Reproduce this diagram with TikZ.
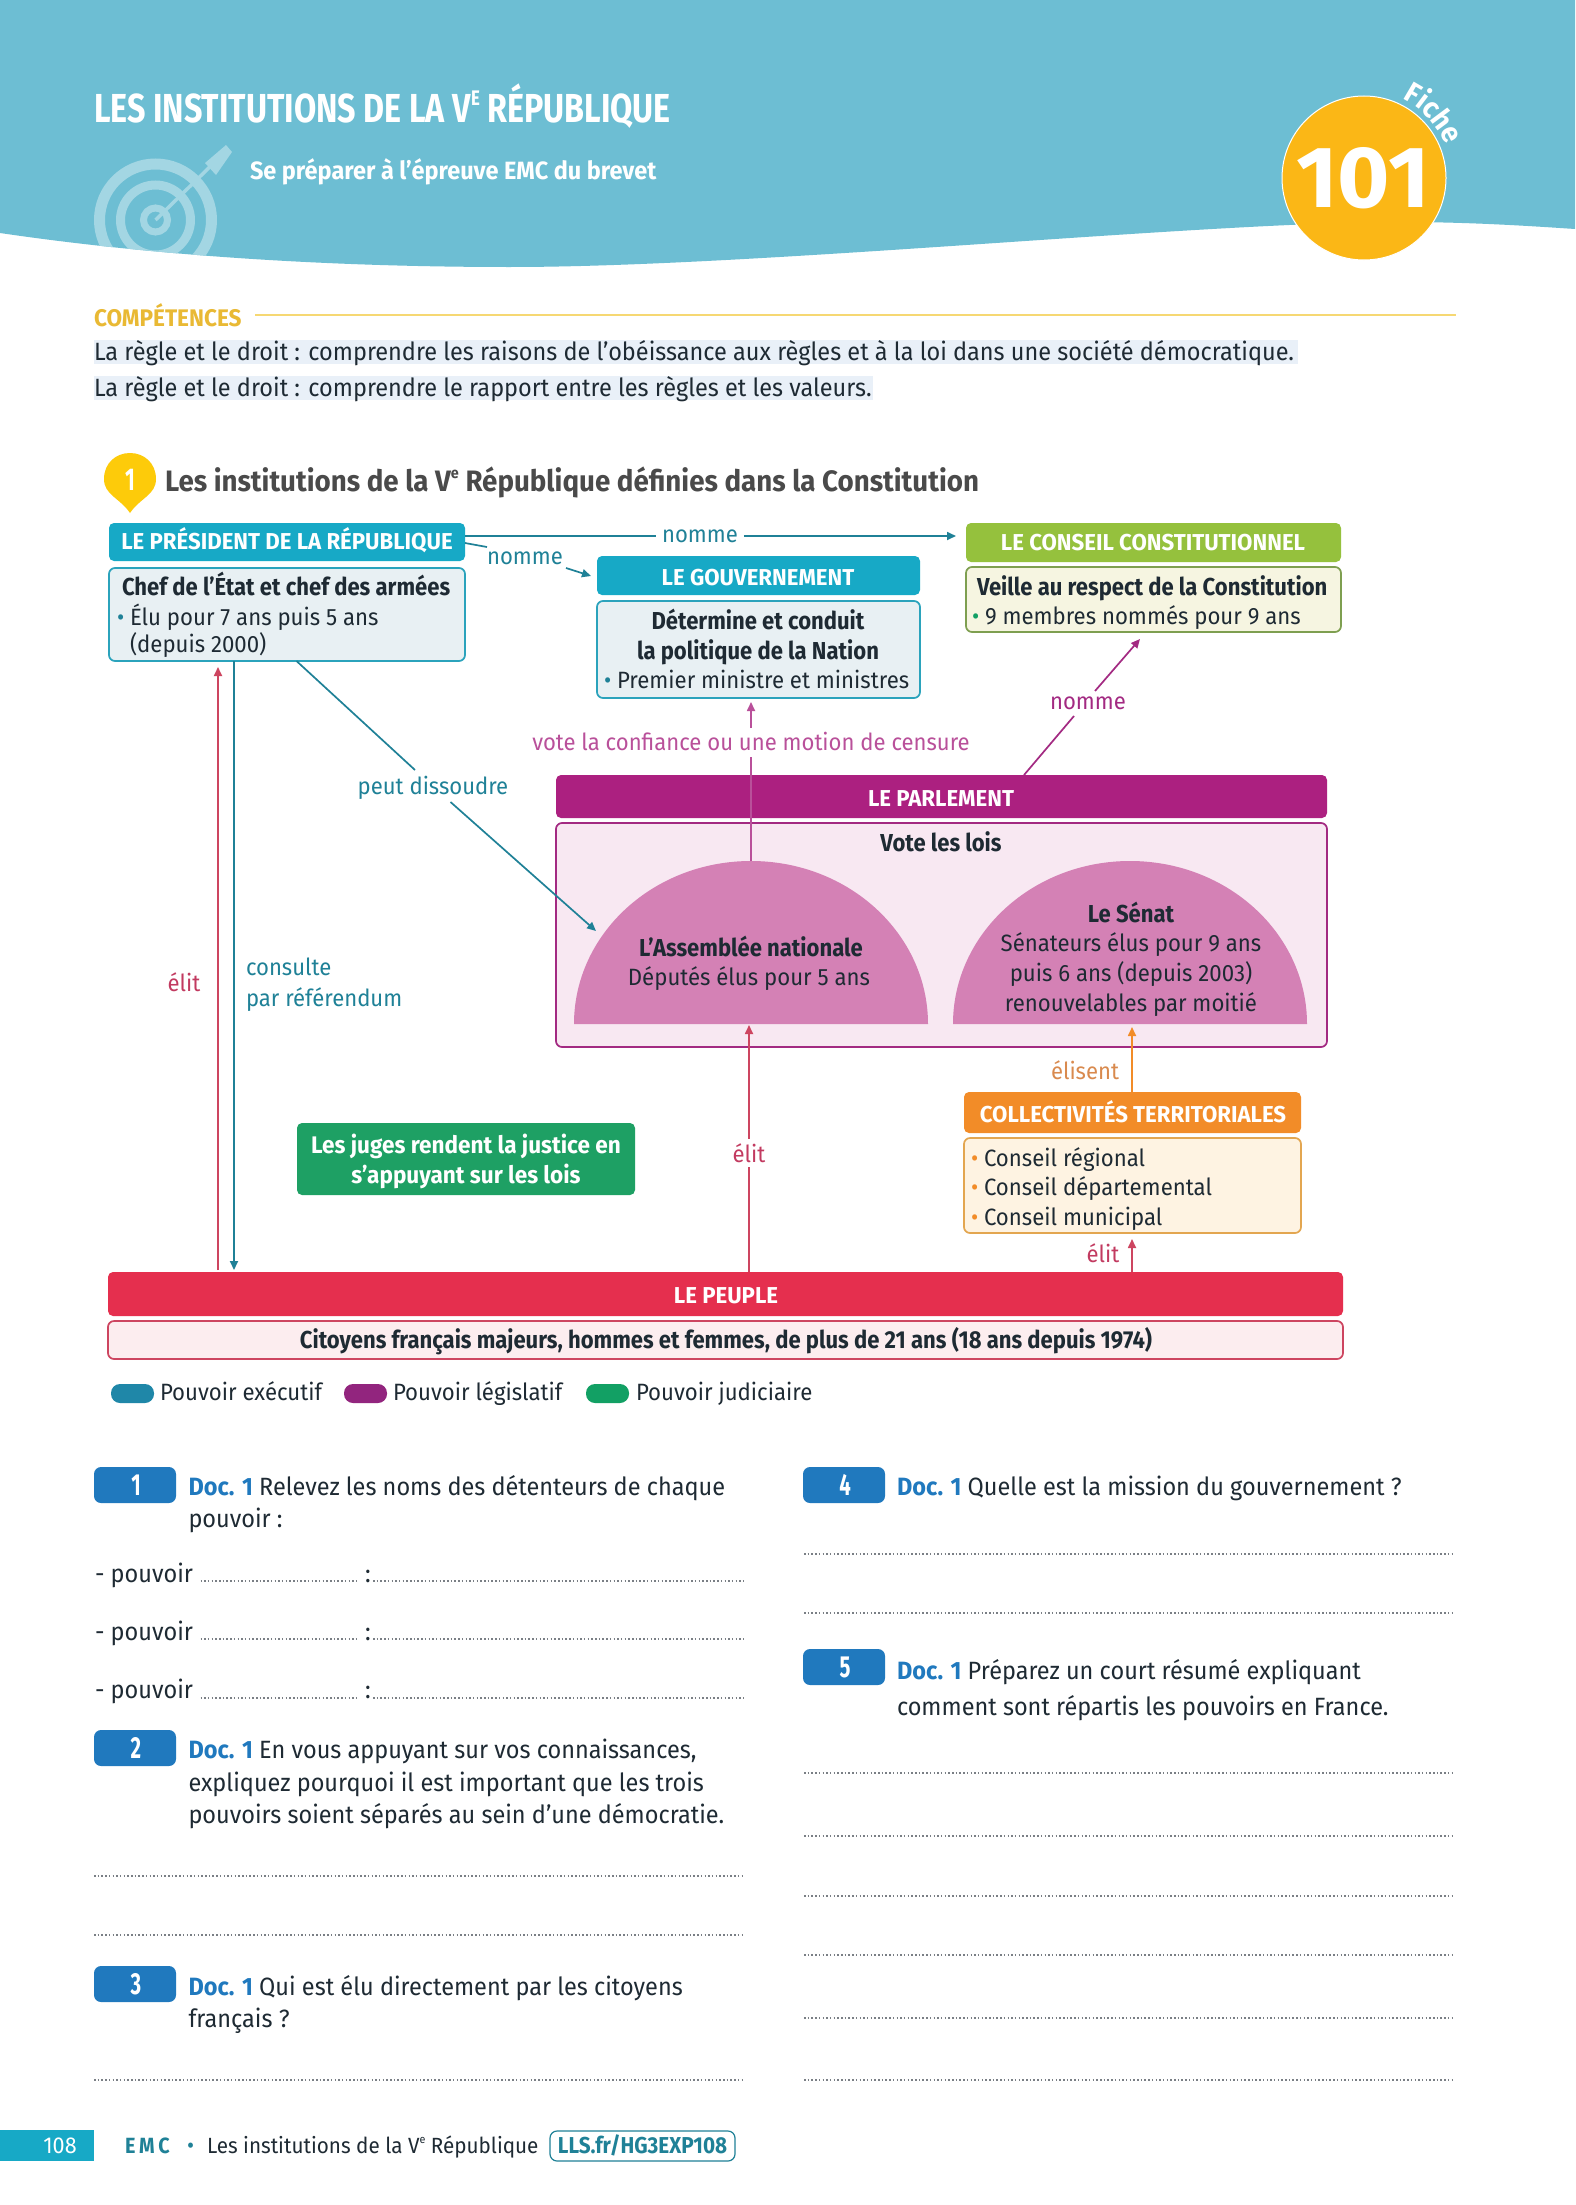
\documentclass[tikz,border=0pt]{standalone}
\usepackage{fontspec}
\setmainfont{Fira Sans}[FakeStretch=0.94,BoldFeatures={FakeStretch=0.90}]
\newfontfamily\hdf{Fira Sans}[FakeStretch=0.965]
\newfontfamily\wbf{Fira Sans}[FakeStretch=0.94]
\newfontfamily\numf{Fira Sans}[FakeStretch=1.03]
\usetikzlibrary{arrows.meta,decorations.text}
\definecolor{hdrblue}{HTML}{6DBED3}
\definecolor{ringc}{HTML}{A3D6E3}
\definecolor{gold}{HTML}{FBB716}
\definecolor{compc}{HTML}{E9B934}
\definecolor{ruleY}{HTML}{F6D873}
\definecolor{hili}{HTML}{E9F0F8}
\definecolor{ink}{HTML}{1E2A33}
\definecolor{headg}{HTML}{4A4A4A}
\definecolor{pinY}{HTML}{FDCB0A}
\definecolor{cyanH}{HTML}{17A9C6}
\definecolor{cyanB}{HTML}{E8F0F3}
\definecolor{cyanL}{HTML}{2BA3BC}
\definecolor{tealL}{HTML}{1F8197}
\definecolor{greenH}{HTML}{95C13D}
\definecolor{greenB}{HTML}{F6F5E1}
\definecolor{greenL}{HTML}{7E9F50}
\definecolor{purpH}{HTML}{AC2080}
\definecolor{purpB}{HTML}{F8E8F2}
\definecolor{purpL}{HTML}{A32A82}
\definecolor{dome}{HTML}{D481B5}
\definecolor{voteC}{HTML}{B9509A}
\definecolor{redH}{HTML}{E52F4E}
\definecolor{redB}{HTML}{FCEDEF}
\definecolor{redL}{HTML}{CD4560}
\definecolor{redT}{HTML}{C23A60}
\definecolor{orH}{HTML}{F28C28}
\definecolor{orB}{HTML}{FEF3E2}
\definecolor{orL}{HTML}{E3A650}
\definecolor{orT}{HTML}{D98A4E}
\definecolor{jud}{HTML}{1EA064}
\definecolor{legT}{HTML}{1F87A8}
\definecolor{legP}{HTML}{92257E}
\definecolor{legG}{HTML}{12A064}
\definecolor{badge}{HTML}{2079BE}
\definecolor{dotc}{HTML}{7A7F85}
\tikzset{
  txt/.style={inner sep=0pt,outer sep=0pt,anchor=base west,text=ink,font=\fontsize{#1}{#1}\selectfont},
  btxt/.style={inner sep=0pt,outer sep=0pt,anchor=base west,text=ink,font=\fontsize{#1}{#1}\selectfont\bfseries},
  wbtxt/.style={inner sep=0pt,outer sep=0pt,anchor=base west,text=ink,font=\wbf\fontsize{#1}{#1}\selectfont\bfseries},
  mid/.style={anchor=base},
  hd/.style={rounded corners=5pt,fill=#1,inner sep=0pt,outer sep=0pt},
  bodybox/.style 2 args={rounded corners=6pt,fill=#1,draw=#2,line width=1.7pt,inner sep=0pt,outer sep=0pt},
  hdtxt/.style={inner sep=0pt,anchor=base,text=white,font=\hdf\fontsize{23}{23}\selectfont\bfseries},
  lab/.style={inner ysep=3pt,inner xsep=6pt,outer sep=0pt,anchor=center,text=#1,font=\fontsize{23.5}{23.5}\selectfont},
  conn/.style={draw=#1,line width=1.7pt},
  arr/.style={draw=#1,line width=1.7pt,-{Triangle[width=8pt,length=9pt]}},
  dotrow/.style={draw=dotc,line width=1.6pt,dash pattern=on 1.5pt off 2.2pt},
  pill/.style={fill=#1,rounded corners=9pt,inner sep=0pt,outer sep=0pt},
  bdg/.style={fill=badge,rounded corners=7pt,inner sep=0pt,outer sep=0pt},
  bdgt/.style={inner sep=0pt,anchor=center,text=white,font=\fontsize{29}{29}\selectfont\bfseries}
}
% box from corners: style, name, x1,y1,x2,y2
\newcommand\bx[6]{\node[#1,minimum width={(#5-#3)*1pt},minimum height={(#6-#4)*1pt}] (#2) at ({(#3+#5)/2},{(#4+#6)/2}) {};}
\newcommand\supe[1]{\raisebox{.42em}{\scalebox{.52}{#1}}}
\newcommand\docu{\textcolor{badge}{\wbf\bfseries Doc. 1}}
\newcommand\nrw[1]{\scalebox{.78}[1.05]{#1}}
\newcommand\hdrpath{(0,0) -- (1575,0) -- (1575,229) .. controls (1530,226) and (1470,222) .. (1400,222) .. controls (1200,222) and (760,267) .. (510,267) .. controls (350,267) and (170,258) .. (0,233) -- cycle}
\begin{document}
\begin{tikzpicture}[x=1pt,y=-1pt]
\useasboundingbox (0,0) rectangle (1575,2205);
\fill[white] (0,0) rectangle (1575,2205);
% header
\fill[hdrblue] \hdrpath;
\begin{scope}
  \clip \hdrpath;
  \draw[ringc,line width=11pt] (155.5,220) circle (56);
  \draw[ringc,line width=9pt] (155.5,220) circle (35);
  \draw[ringc,line width=7pt] (155.5,220) circle (12);
  \draw[ringc,line width=3.5pt] (155.5,220) -- (222,155);
  \fill[ringc] (205,163) -- (226,145) -- (232,152) -- (216,175) -- cycle;
\end{scope}
\node[btxt=40.5,text=white] (title) at (94,123) {\scalebox{.885}[1]{LES INSTITUTIONS DE LA V\supe{E} RÉPUBLIQUE}};
\node[wbtxt=25,text=white] (subtitle) at (250,179) {Se préparer à l’épreuve EMC du brevet};
\node[circle,fill=gold,draw=white,line width=1pt,minimum size=164pt,inner sep=0pt] (seal) at (1364,178) {};
\node[btxt=87,text=white,mid,font=\numf\fontsize{87}{87}\selectfont\bfseries] (num) at (1363,207) {101};
\path[decorate,decoration={text along path,text align=left,text={|\wbf\fontsize{29}{29}\selectfont\bfseries\color{white}|Fiche}}]
  (1402.6,99) arc[start angle=-64,end angle=5,radius=88];
% competences
\node[wbtxt=24,text=compc] (comp) at (94,326) {COMPÉTENCES};
\coordinate (ruleA) at (255,315);
\coordinate (ruleB) at (1456,315);
\draw[ruleY,line width=1.6pt] (ruleA) -- (ruleB);
\fill[hili] (94,340) rectangle (1298,364);
\fill[hili] (94,376) rectangle (873,400);
\node[txt=25] (c1) at (94,360) {La règle et le droit : comprendre les raisons de l’obéissance aux règles et à la loi dans une société démocratique.};
\node[txt=25] (c2) at (94,396) {La règle et le droit : comprendre le rapport entre les règles et les valeurs.};
% section heading
\fill[pinY] (130,513) .. controls (120,498) and (104,495) .. (104,479) .. controls (104,463) and (116,453) .. (130,453) .. controls (144,453) and (156,463) .. (156,479) .. controls (156,495) and (140,498) .. (130,513) -- cycle;
\node[inner sep=0pt,text=white,font=\fontsize{30}{30}\selectfont\bfseries] (pin) at (130,480) {\nrw{1}};
\node[wbtxt=29.5,text=headg] (sec) at (165,491) {Les institutions de la V\supe{e} République définies dans la Constitution};
% president
\bx{hd=cyanH}{preshead}{109}{523}{465}{561}
\node[hdtxt] (prest) at (287,549) {LE PRÉSIDENT DE LA RÉPUBLIQUE};
\bx{bodybox={cyanB}{cyanL}}{presbody}{109}{568}{465}{661}
\node[btxt=24.5] (p1) at (122,595) {Chef de l’État et chef des armées};
\node[txt=23.6,text=tealL] (p2b) at (117,625) {•};
\node[txt=23.6] (p2) at (130,625) {Élu pour 7 ans puis 5 ans};
\node[txt=23.6] (p3) at (130,652) {(depuis 2000)};
% gouvernement
\bx{hd=cyanH}{govhead}{597}{556}{920}{595}
\node[hdtxt] (govt) at (758,585) {LE GOUVERNEMENT};
\bx{bodybox={cyanB}{cyanL}}{govbody}{597}{601}{920}{698}
\node[btxt=24.5,mid] (g1) at (758,629) {Détermine et conduit};
\node[btxt=24.5,mid] (g2) at (758,659) {la politique de la Nation};
\node[txt=23.6,text=tealL] (g3b) at (604,688) {•};
\node[txt=23.6] (g3) at (617,688) {Premier ministre et ministres};
% conseil
\bx{hd=greenH}{conhead}{966}{523}{1341}{562}
\node[hdtxt] (cont) at (1153,550) {LE CONSEIL CONSTITUTIONNEL};
\bx{bodybox={greenB}{greenL}}{conbody}{966}{567}{1341}{632}
\node[btxt=24.5] (k1) at (977,595) {Veille au respect de la Constitution};
\node[txt=23.6,text=legG] (k2b) at (972,624) {•};
\node[txt=23.6] (k2) at (985,624) {9 membres nommés pour 9 ans};
% parlement
\bx{hd=purpH}{parlhead}{556}{775}{1327}{818}
\node[hdtxt] (parlt) at (941,806) {LE PARLEMENT};
\bx{bodybox={purpB}{purpL}}{parlbody}{556}{823}{1327}{1047}
\node[btxt=24.5,mid] (vl) at (941,851) {Vote les lois};
\fill[dome] (574,1024) arc[start angle=180,end angle=360,x radius=177,y radius=163] -- cycle;
\fill[dome] (953,1024) arc[start angle=180,end angle=360,x radius=177,y radius=163] -- cycle;
\coordinate (domeLtop) at (751,861);
\coordinate (domeLbase) at (749,1025);
\coordinate (domeRbase) at (1132,1027);
\node[btxt=24.5,mid] (d1) at (751,956) {L’Assemblée nationale};
\node[txt=23.6,mid] (d2) at (749,985) {Députés élus pour 5 ans};
\node[btxt=24.5,mid] (s1) at (1131,922) {Le Sénat};
\node[txt=23.6,mid] (s2) at (1131,951) {Sénateurs élus pour 9 ans};
\node[txt=23.6,mid] (s3) at (1131,981) {puis 6 ans (depuis 2003)};
\node[txt=23.6,mid] (s4) at (1131,1011) {renouvelables par moitié};
% juges
\bx{hd=jud}{jug}{297}{1123}{635}{1195}
\node[hdtxt,font=\wbf\fontsize{24}{24}\selectfont\bfseries] (j1) at (466,1153) {Les juges rendent la justice en};
\node[hdtxt,font=\wbf\fontsize{24}{24}\selectfont\bfseries] (j2) at (466,1183) {s’appuyant sur les lois};
% collectivites
\bx{hd=orH}{colhead}{964}{1092}{1301}{1133}
\node[hdtxt] (colt) at (1133,1122) {COLLECTIVITÉS TERRITORIALES};
\bx{bodybox={orB}{orL}}{colbody}{964}{1138}{1301}{1233}
\node[txt=23.6,text=orH] (o1b) at (971,1166) {•};
\node[txt=23.6] (o1) at (984,1166) {Conseil régional};
\node[txt=23.6,text=orH] (o2b) at (971,1195) {•};
\node[txt=23.6] (o2) at (984,1195) {Conseil départemental};
\node[txt=23.6,text=orH] (o3b) at (971,1225) {•};
\node[txt=23.6] (o3) at (984,1225) {Conseil municipal};
% peuple
\bx{hd=redH}{peuhead}{108}{1272}{1343}{1316}
\node[hdtxt] (peut) at (726,1303) {LE PEUPLE};
\bx{bodybox={redB}{redL}}{peubody}{108}{1321}{1343}{1359}
\node[btxt=24.5,mid] (pb) at (726,1348) {Citoyens français majeurs, hommes et femmes, de plus de 21 ans (18 ans depuis 1974)};
% connectors: president
\node[lab=tealL] (nA) at (700,536) {nomme};
\coordinate (presE1) at (465,536);
\coordinate (conW) at (956,536);
\draw[conn=tealL] (presE1) -- (nA.west |- presE1);
\draw[arr=tealL] (nA.east |- conW) -- (conW);
\node[lab=tealL] (nB) at (525,558) {nomme};
\coordinate (presE2) at (465,543);
\coordinate (govW) at (591,576);
\draw[conn=tealL] (presE2) -- (487,547);
\draw[arr=tealL] (566,568) -- (govW);
\node[lab=tealL] (diss) at (433,788) {peut dissoudre};
\coordinate (presS1) at (296.5,661);
\coordinate (domeLw) at (596,931);
\draw[conn=tealL] (presS1) -- (415,770);
\draw[arr=tealL] (450.5,802) -- (domeLw);
% elit / consulte
\coordinate (peuR) at (218,1270);
\coordinate (presR) at (218,667);
\draw[arr=redL] (peuR) -- (presR);
\node[lab=redT] (el1) at (184,982) {élit};
\coordinate (presT) at (234,661);
\coordinate (peuT) at (234,1270);
\draw[arr=tealL] (presT) -- (peuT);
\node[lab=tealL,anchor=base west,inner sep=0pt] (cs1) at (246,975) {consulte};
\node[lab=tealL,anchor=base west,inner sep=0pt] (cs2) at (246,1006) {par référendum};
% vote
\node[lab=voteC,anchor=base,inner sep=0pt] (vote) at (751,750) {vote la confiance ou une motion de censure};
\coordinate (govS) at (751,702);
\draw[arr=voteC] (751,728) -- (govS);
\draw[conn=voteC] (domeLtop) -- (751,757);
% parlement -> conseil
\node[lab=purpL] (nC) at (1088,703) {nomme};
\coordinate (parlN) at (1024,775);
\coordinate (conS) at (1140,639);
\draw[conn=purpL] (parlN) -- (1074,716);
\draw[arr=purpL] (1095,691) -- (conS);
% peuple -> assemblee
\draw[arr=redL] (peuhead.north -| domeLbase) -- (domeLbase);
\node[lab=redT,fill=white,inner sep=4pt] (el2) at (749,1153) {élit};
% collectivites -> senat
\draw[arr=orH] (colhead.north -| domeRbase) -- (domeRbase);
\node[lab=orT] (eli) at (1085,1070) {élisent};
% peuple -> collectivites
\coordinate (colS) at (1132,1239);
\draw[arr=redL] (peuhead.north -| colS) -- (colS);
\node[lab=redT] (el3) at (1103,1253) {élit};
% legend
\bx{pill=legT}{leg1}{111}{1384}{154}{1403}
\node[txt=23.6] (lt1) at (160,1400) {Pouvoir exécutif};
\bx{pill=legP}{leg2}{344}{1384}{387}{1403}
\node[txt=23.6] (lt2) at (393,1400) {Pouvoir législatif};
\bx{pill=legG}{leg3}{586}{1384}{629}{1403}
\node[txt=23.6] (lt3) at (636,1400) {Pouvoir judiciaire};
% questions left
\bx{bdg}{b1}{94}{1467}{176}{1503}
\node[bdgt] (b1t) at (136,1485) {\nrw{1}};
\node[txt=25] (q1a) at (188.5,1495) {\docu{} Relevez les noms des détenteurs de chaque};
\node[txt=25] (q1b) at (188.5,1527) {pouvoir :};
\node[txt=25] (pv1) at (95,1582) {- pouvoir};
\node[txt=25] (pv2) at (95,1640) {- pouvoir};
\node[txt=25] (pv3) at (95,1698) {- pouvoir};
\draw[dotrow] (200.5,1581) -- (358,1581);
\draw[dotrow] (200.5,1639) -- (358,1639);
\draw[dotrow] (200.5,1698) -- (358,1698);
\node[txt=25] (cl1) at (365,1582) {:};
\node[txt=25] (cl2) at (365,1640) {:};
\node[txt=25] (cl3) at (365,1698) {:};
\draw[dotrow] (373,1581) -- (744,1581);
\draw[dotrow] (373,1639) -- (744,1639);
\draw[dotrow] (373,1698) -- (744,1698);
\bx{bdg}{b2}{94}{1730}{176}{1766}
\node[bdgt] (b2t) at (136,1748) {\nrw{2}};
\node[txt=25] (q2a) at (188.5,1758) {\docu{} En vous appuyant sur vos connaissances,};
\node[txt=25] (q2b) at (188.5,1791) {expliquez pourquoi il est important que les trois};
\node[txt=25] (q2c) at (188.5,1823) {pouvoirs soient séparés au sein d’une démocratie.};
\draw[dotrow] (94,1876) -- (744,1876);
\draw[dotrow] (94,1935) -- (744,1935);
\bx{bdg}{b3}{94}{1966}{176}{2002}
\node[bdgt] (b3t) at (136,1984) {\nrw{3}};
\node[txt=25] (q3a) at (188.5,1995) {\docu{} Qui est élu directement par les citoyens};
\node[txt=25] (q3b) at (188.5,2027) {français ?};
\draw[dotrow] (94,2080) -- (744,2080);
% questions right
\bx{bdg}{b4}{803}{1467}{885}{1503}
\node[bdgt] (b4t) at (845,1485) {\nrw{4}};
\node[txt=25] (q4a) at (897,1495) {\docu{} Quelle est la mission du gouvernement ?};
\draw[dotrow] (804,1554) -- (1453,1554);
\draw[dotrow] (804,1613) -- (1453,1613);
\bx{bdg}{b5}{803}{1649}{885}{1685}
\node[bdgt] (b5t) at (845,1667) {\nrw{5}};
\node[txt=25] (q5a) at (897,1679) {\docu{} Préparez un court résumé expliquant};
\node[txt=25] (q5b) at (897,1715) {comment sont répartis les pouvoirs en France.};
\draw[dotrow] (804,1773) -- (1453,1773);
\draw[dotrow] (804,1836) -- (1453,1836);
\draw[dotrow] (804,1896) -- (1453,1896);
\draw[dotrow] (804,1955) -- (1453,1955);
\draw[dotrow] (804,2018) -- (1453,2018);
\draw[dotrow] (804,2080) -- (1453,2080);
% footer
\fill[cyanH] (0,2130) rectangle (94,2161);
\node[txt=23,text=white,mid] (pg) at (60,2153) {108};
\node[btxt=22,text=tealL] (emc) at (125,2153) {E\,M\,C};
\node[txt=23,text=tealL] (fb) at (187,2153) {•};
\node[txt=22] (ft) at (207,2153) {Les institutions de la V\supe{e} République};
\node[draw=tealL,line width=1.2pt,rounded corners=7pt,minimum width=185pt,minimum height=30pt,inner sep=0pt] (lnk) at (642.5,2146) {};
\node[btxt=23,text=tealL,mid] (lnkt) at (642.5,2153) {LLS.fr/HG3EXP108};
\end{tikzpicture}
\end{document}
